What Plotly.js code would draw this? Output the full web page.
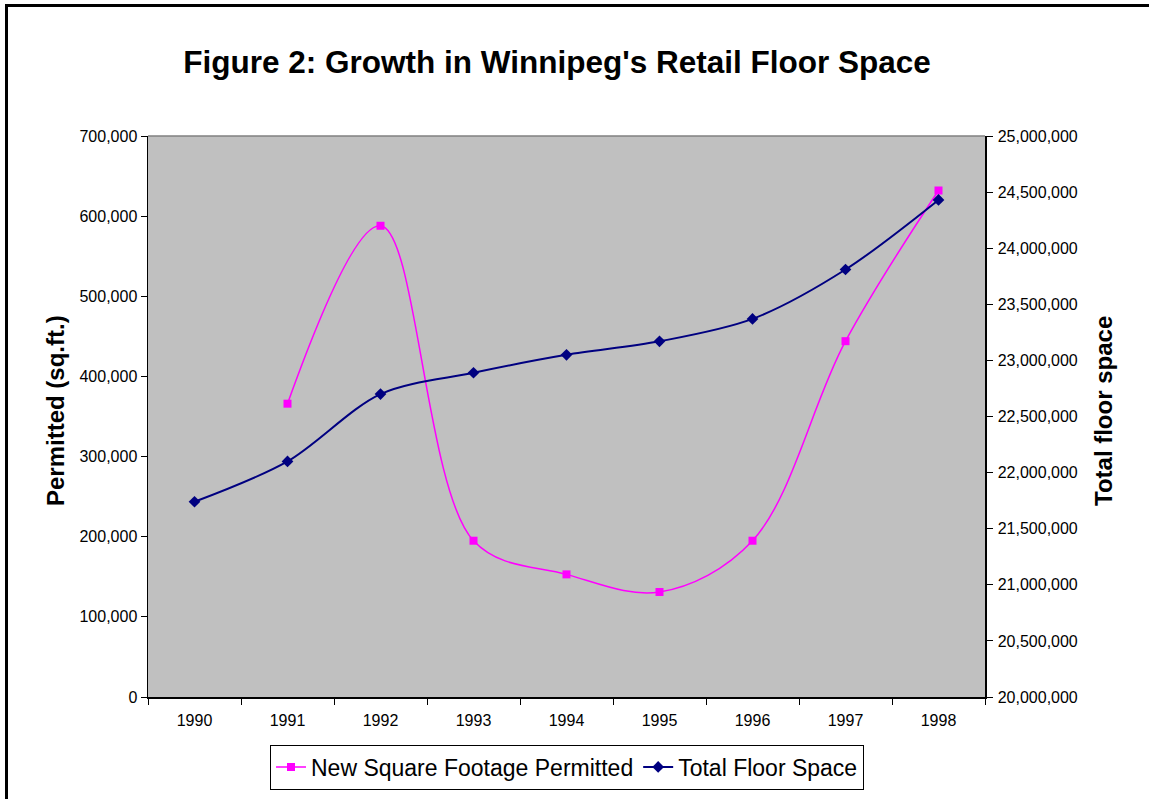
<!DOCTYPE html>
<html>
<head>
<meta charset="utf-8">
<script src="https://cdn.plot.ly/plotly-3.0.1.min.js"></script>
<style>
  html, body { margin: 0; padding: 0; width: 1149px; height: 799px; overflow: hidden; background: #fff; }
  #frame { position: absolute; left: 5px; top: 4px; width: 1200px; height: 900px; border: 3px solid #000; box-sizing: border-box; pointer-events: none; z-index: 10; }
  #chart { position: absolute; left: 0; top: 0; width: 1149px; height: 799px; }
</style>
</head>
<body>
<div id="chart"></div>
<div id="frame"></div>
<script>
const years = ['1990','1991','1992','1993','1994','1995','1996','1997','1998'];
const permittedYears = ['1991','1992','1993','1994','1995','1996','1997','1998'];
const newSquareFootagePermitted = [366000, 588000, 195000, 153000, 131000, 195000, 444000, 632000];
const totalFloorSpace = [21740000, 22100000, 22700000, 22890000, 23050000, 23170000, 23370000, 23810000, 24430000];
const leftTicks = [0, 100000, 200000, 300000, 400000, 500000, 600000, 700000];
const rightTicks = [20000000, 20500000, 21000000, 21500000, 22000000, 22500000, 23000000, 23500000, 24000000, 24500000, 25000000];

const fontFam = 'Liberation Sans, Arial, sans-serif';

const traces = [
  {
    x: permittedYears, y: newSquareFootagePermitted,
    name: 'New Square Footage Permitted',
    type: 'scatter', mode: 'lines+markers',
    line: {color: '#ff00ff', width: 1.5, shape: 'spline', smoothing: 1},
    marker: {symbol: 'square', size: 8, color: '#ff00ff', line: {color: '#ff00ff', width: 0}},
    yaxis: 'y'
  },
  {
    x: years, y: totalFloorSpace,
    name: 'Total Floor Space',
    type: 'scatter', mode: 'lines+markers',
    line: {color: '#000080', width: 2, shape: 'spline', smoothing: 0.9},
    marker: {symbol: 'diamond', size: 9, color: '#000080'},
    yaxis: 'y2'
  }
];

const layout = {
  width: 1149, height: 799,
  margin: {l: 148, r: 164, t: 136, b: 102, pad: 0},
  paper_bgcolor: '#ffffff',
  plot_bgcolor: '#c0c0c0',
  font: {family: fontFam, color: '#000', size: 16},
  title: {
    text: "<b>Figure 2: Growth in Winnipeg's Retail Floor Space</b>",
    font: {family: fontFam, size: 31.5, color: '#000'},
    x: 557/1149, xref: 'container', xanchor: 'center',
    y: 1 - 62/799, yref: 'container', yanchor: 'middle'
  },
  xaxis: {
    type: 'category', categoryorder: 'array', categoryarray: years,
    range: [-0.5, 8.5],
    showgrid: false, zeroline: false,
    showline: true, linecolor: '#000', linewidth: 1.5,
    ticks: 'outside', ticklen: 6, tickcolor: '#000', tickwidth: 1,
    tickson: 'boundaries', ticklabelstandoff: 8,
    tickfont: {family: fontFam, size: 16, color: '#000'}
  },
  yaxis: {
    range: [0, 700000], tickvals: leftTicks, tickformat: ',d',
    showgrid: false, zeroline: false,
    showline: true, linecolor: '#000', linewidth: 1.5,
    ticks: 'outside', ticklen: 6, tickcolor: '#000',
    tickfont: {family: fontFam, size: 16, color: '#000'}
  },
  yaxis2: {
    overlaying: 'y', side: 'right', anchor: 'x',
    range: [20000000, 25000000], tickvals: rightTicks, tickformat: ',d',
    showgrid: false, zeroline: false,
    showline: true, linecolor: '#000', linewidth: 1.5,
    ticks: 'outside', ticklen: 6, tickcolor: '#000', ticklabelstandoff: 2,
    tickfont: {family: fontFam, size: 16, color: '#000'}
  },
  annotations: [
    {text: '<b>Permitted (sq.ft.)</b>', textangle: -90, showarrow: false,
     xref: 'paper', yref: 'paper', x: (55 - 148) / 837, y: (697 - 411) / 561,
     xanchor: 'center', yanchor: 'middle',
     font: {family: fontFam, size: 24, color: '#000'}},
    {text: '<b>Total floor space</b>', textangle: -90, showarrow: false,
     xref: 'paper', yref: 'paper', x: (1103 - 148) / 837, y: (697 - 411) / 561,
     xanchor: 'center', yanchor: 'middle',
     font: {family: fontFam, size: 24, color: '#000'}}
  ],
  showlegend: true,
  legend: {
    orientation: 'h',
    x: 567/1149, xanchor: 'center', xref: 'container',
    y: 1 - 767/799, yanchor: 'middle', yref: 'container',
    bgcolor: '#ffffff', bordercolor: '#000', borderwidth: 1,
    font: {family: fontFam, size: 23, color: '#000'},
    itemwidth: 30, tracegroupgap: 0
  },
  shapes: [
    {type: 'line', xref: 'paper', yref: 'paper', x0: 0, x1: 1, y0: 1, y1: 1, line: {color: '#808080', width: 1.5}}
  ]
};

Plotly.newPlot('chart', traces, layout, {displayModeBar: false, staticPlot: true});
</script>
</body>
</html>
